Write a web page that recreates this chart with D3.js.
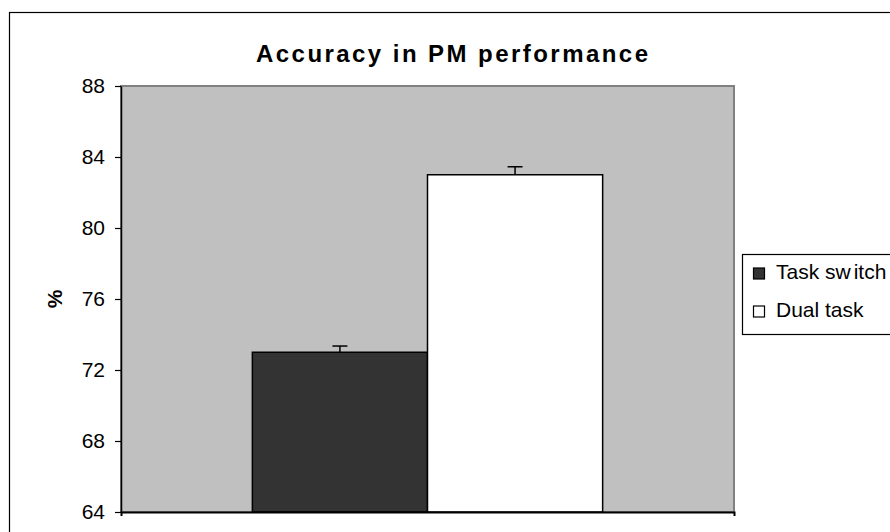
<!DOCTYPE html>
<html>
<head>
<meta charset="utf-8">
<script src="https://cdn.jsdelivr.net/npm/d3@7"></script>
<style>
body { margin: 0; background: #ffffff; }
svg { display: block; }
</style>
</head>
<body>
<svg></svg>
<script>
var categories = [""];
var seriesNames = ["Task switch", "Dual task"];
var seriesValues = [73.0, 83.0];
var seriesErrors = [0.35, 0.45];
var seriesColors = ["#333333", "#ffffff"];
var yTicks = [64, 68, 72, 76, 80, 84, 88];

var screen = {width: 890, height: 532};
var margins = {left: 121, top: 86, right: 156, bottom: 20};
var graph = {
    width: screen.width - margins.left - margins.right,
    height: screen.height - margins.top - margins.bottom
};

var svg = d3.select("svg")
    .attr("width", screen.width)
    .attr("height", screen.height)
    .style("font-family", "Arial, 'Liberation Sans', sans-serif");

// chart frame (runs off the right and bottom edges like the original)
svg.append("rect")
    .attr("x", 9.5)
    .attr("y", 12.5)
    .attr("width", 900)
    .attr("height", 540)
    .attr("fill", "#ffffff")
    .attr("stroke", "#000000")
    .attr("stroke-width", 1.2);

var xScale = d3.scaleBand()
    .domain(categories)
    .range([0, graph.width]);

var xSeries = d3.scaleBand()
    .domain(seriesNames)
    .range([0, xScale.bandwidth()])
    .paddingInner(0)
    .paddingOuter(0.75);

var yScale = d3.scaleLinear()
    .domain([64, 88])
    .range([graph.height, 0]);

var target = svg.append("g")
    .attr("id", "graph")
    .attr("transform", "translate(" + margins.left + "," + margins.top + ")");

// plot area
target.append("rect")
    .attr("x", 0)
    .attr("y", 0)
    .attr("width", graph.width)
    .attr("height", graph.height)
    .attr("fill", "#c0c0c0")
    .attr("stroke", "#808080")
    .attr("stroke-width", 2);

var bars = seriesNames.map(function(name, i) {
    return {name: name, value: seriesValues[i], err: seriesErrors[i], color: seriesColors[i]};
});

var groups = target.selectAll(".cat")
    .data(categories)
    .enter()
    .append("g")
    .attr("class", "cat")
    .attr("transform", function(d) { return "translate(" + xScale(d) + ",0)"; });

groups.selectAll("rect.bar")
    .data(bars)
    .enter()
    .append("rect")
    .attr("class", "bar")
    .attr("x", function(d) { return xSeries(d.name); })
    .attr("y", function(d) { return yScale(d.value); })
    .attr("width", xSeries.bandwidth())
    .attr("height", function(d) { return graph.height - yScale(d.value); })
    .attr("fill", function(d) { return d.color; })
    .attr("stroke", "#000000")
    .attr("stroke-width", 1.5);

// error bars (upper only)
var errs = groups.selectAll("g.err")
    .data(bars)
    .enter()
    .append("g")
    .attr("class", "err")
    .attr("stroke", "#000000")
    .attr("stroke-width", 1.5);

errs.append("line")
    .attr("x1", function(d) { return xSeries(d.name) + xSeries.bandwidth() / 2; })
    .attr("x2", function(d) { return xSeries(d.name) + xSeries.bandwidth() / 2; })
    .attr("y1", function(d) { return yScale(d.value); })
    .attr("y2", function(d) { return yScale(d.value + d.err); });

errs.append("line")
    .attr("x1", function(d) { return xSeries(d.name) + xSeries.bandwidth() / 2 - 7.5; })
    .attr("x2", function(d) { return xSeries(d.name) + xSeries.bandwidth() / 2 + 7.5; })
    .attr("y1", function(d) { return yScale(d.value + d.err); })
    .attr("y2", function(d) { return yScale(d.value + d.err); });

// axes
var yAxis = d3.axisLeft(yScale)
    .tickValues(yTicks)
    .tickFormat(d3.format("d"))
    .tickSizeInner(6)
    .tickSizeOuter(0)
    .tickPadding(10);

var yAxisG = target.append("g")
    .call(yAxis);
yAxisG.select(".domain").attr("stroke", "#000000").attr("stroke-width", 1.5);
yAxisG.selectAll(".tick line").attr("stroke", "#000000").attr("stroke-width", 1.2);
yAxisG.selectAll(".tick text")
    .attr("font-size", "21px")
    .attr("fill", "#000000")
    .attr("font-family", "Arial, 'Liberation Sans', sans-serif");

var xAxis = d3.axisBottom(xScale)
    .tickFormat("")
    .tickSizeInner(0)
    .tickSizeOuter(4);

var xAxisG = target.append("g")
    .attr("transform", "translate(0," + graph.height + ")")
    .call(xAxis);
xAxisG.select(".domain").attr("stroke", "#000000").attr("stroke-width", 2);
xAxisG.selectAll(".tick line").remove();

// y axis title
svg.append("text")
    .attr("transform", "translate(62," + (margins.top + graph.height / 2) + ") rotate(-90)")
    .attr("text-anchor", "middle")
    .attr("font-size", "21px")
    .attr("font-weight", "bold")
    .text("%");

// chart title
svg.append("text")
    .attr("x", 452)
    .attr("y", 62)
    .attr("text-anchor", "middle")
    .attr("font-size", "24px")
    .attr("font-weight", "bold")
    .attr("textLength", 392)
    .attr("lengthAdjust", "spacing")
    .text("Accuracy in PM performance");

// legend
var legend = svg.append("g")
    .attr("transform", "translate(742,254)");

legend.append("rect")
    .attr("x", 0.5)
    .attr("y", 0.5)
    .attr("width", 200)
    .attr("height", 80)
    .attr("fill", "#ffffff")
    .attr("stroke", "#000000")
    .attr("stroke-width", 1.2);

var items = legend.selectAll("g.item")
    .data(bars)
    .enter()
    .append("g")
    .attr("class", "item")
    .attr("transform", function(d, i) { return "translate(0," + (i * 38) + ")"; });

items.append("rect")
    .attr("x", 11.5)
    .attr("y", 14)
    .attr("width", 11)
    .attr("height", 11)
    .attr("fill", function(d) { return d.color; })
    .attr("stroke", "#000000")
    .attr("stroke-width", 1.2);

var labels = items.append("text")
    .attr("x", 34)
    .attr("y", 25)
    .attr("font-size", "21px")
    .attr("fill", "#000000");

labels.each(function(d) {
    var t = d3.select(this);
    if (d.name === "Task switch") {
        t.append("tspan").text("Task sw");
        t.append("tspan").attr("dx", 3).text("itch");
    } else {
        t.text(d.name);
    }
});
</script>
</body>
</html>
